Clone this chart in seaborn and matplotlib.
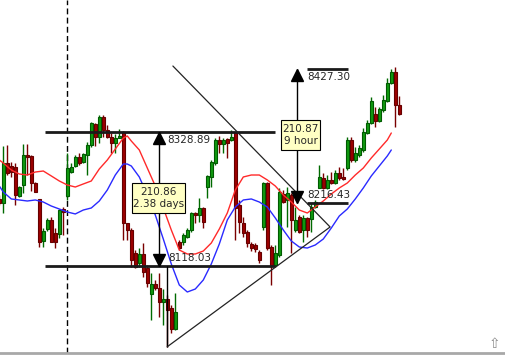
import numpy as np
import pandas as pd
import matplotlib
matplotlib.use("Agg")
import matplotlib.pyplot as plt
import seaborn as sns
from matplotlib.patches import Rectangle

# ---------------- data ----------------
bar_index = list(range(-1, 100))
opens = [8223.5, 8217, 8280, 8275, 8274, 8228, 8245, 8293, 8291, 8249, 8223,
         8157, 8176, 8190, 8170, 8168, 8208, 8228, 8266, 8275, 8290,
         8282, 8293, 8308, 8341, 8321, 8352, 8332, 8321, 8312, 8319,
         8329, 8186, 8175, 8138, 8123, 8137, 8115, 8074, 8090, 8083,
         8061, 8066, 8052, 8019, 8156, 8156, 8164, 8175, 8201, 8198,
         8209, 8242, 8258, 8280, 8316, 8310, 8318, 8316, 8329, 8214,
         8186, 8172, 8153, 8151, 8140, 8179, 8249, 8148, 8120, 8135,
         8231, 8222, 8230, 8175, 8195, 8175, 8194, 8192, 8211, 8241,
         8257, 8241, 8253, 8249, 8264, 8258, 8272, 8316, 8285, 8293,
         8301, 8327, 8343, 8357, 8346, 8363, 8378, 8406, 8423, 8371]
highs = [8230, 8307, 8308, 8282, 8280, 8244, 8310, 8310, 8293, 8250, 8223,
         8178, 8194, 8195, 8178, 8208, 8211, 8296, 8280, 8293, 8296,
         8296, 8313, 8345, 8343, 8356, 8356, 8340, 8327, 8326, 8334,
         8330, 8186, 8178, 8143, 8146, 8154, 8120, 8107, 8096, 8107,
         8082, 8072, 8057, 8076, 8159, 8170, 8178, 8203, 8203, 8225,
         8211, 8261, 8285, 8319, 8323, 8319, 8319, 8332, 8329, 8222,
         8195, 8175, 8156, 8154, 8143, 8250, 8250, 8151, 8151, 8241,
         8238, 8242, 8233, 8211, 8198, 8198, 8195, 8217, 8222, 8277,
         8264, 8261, 8266, 8269, 8274, 8272, 8321, 8321, 8305, 8308,
         8335, 8348, 8384, 8368, 8368, 8387, 8414, 8428, 8431, 8386]
lows = [8214, 8201, 8261, 8258, 8214, 8227, 8233, 8261, 8236, 8234, 8148,
        8148, 8173, 8156, 8146, 8162, 8167, 8222, 8264, 8274, 8277,
        8280, 8261, 8305, 8307, 8312, 8321, 8319, 8296, 8296, 8319,
        8159, 8159, 8116, 8115, 8116, 8101, 8085, 8033, 8080, 8038,
        8025, 7991, 8013, 8017, 8143, 8151, 8162, 8172, 8186, 8187,
        8178, 8225, 8242, 8277, 8296, 8296, 8288, 8315, 8159, 8170,
        8164, 8148, 8142, 8140, 8123, 8175, 8143, 8088, 8116, 8132,
        8217, 8179, 8138, 8172, 8170, 8156, 8164, 8172, 8209, 8241,
        8239, 8239, 8247, 8247, 8253, 8253, 8269, 8282, 8282, 8290,
        8297, 8326, 8341, 8337, 8345, 8360, 8376, 8404, 8337, 8356]
closes = [8217, 8280, 8264, 8266, 8230, 8242, 8293, 8290, 8249, 8234, 8156,
          8173, 8190, 8156, 8156, 8206, 8203, 8272, 8274, 8290, 8280,
          8294, 8308, 8343, 8321, 8352, 8332, 8321, 8312, 8319, 8323,
          8186, 8175, 8127, 8116, 8137, 8109, 8091, 8090, 8083, 8061,
          8066, 8049, 8019, 8046, 8146, 8167, 8175, 8201, 8198, 8209,
          8187, 8260, 8282, 8316, 8310, 8316, 8312, 8321, 8209, 8187,
          8170, 8154, 8146, 8145, 8127, 8249, 8146, 8120, 8138, 8234,
          8219, 8233, 8190, 8190, 8172, 8194, 8175, 8211, 8219, 8258,
          8241, 8253, 8249, 8264, 8257, 8255, 8316, 8285, 8296, 8304,
          8329, 8343, 8378, 8346, 8365, 8379, 8406, 8423, 8371, 8357]

ma_index = [-1, 0, 2, 4, 6, 8, 10, 12, 14, 16, 18, 20, 22, 24, 26, 28, 30, 31,
            32, 34, 36, 38, 40, 42, 44, 46, 48, 50, 52, 54, 56, 58, 60, 62, 64,
            66, 68, 70, 72, 74, 76, 78, 80, 82, 84, 86, 88, 90, 92, 94, 96, 97]
ma_fast = [8284.8, 8280.1, 8269.1, 8262.8, 8261.2, 8265.9, 8267.5, 8259.7,
           8251.8, 8245.5, 8242.3, 8247.1, 8251.8, 8270.7, 8284.8, 8302.1,
           8319.4, 8322.6, 8314.7, 8300.6, 8272.2, 8243.9, 8209.3, 8174.7,
           8143.2, 8136.9, 8136.9, 8141.6, 8154.2, 8176.2, 8201.4, 8237.6,
           8258.1, 8261.2, 8261.2, 8253.4, 8243.9, 8229.8, 8218.7, 8206.1,
           8201.4, 8210.9, 8220.3, 8231.3, 8240.8, 8248.6, 8261.2, 8272.2,
           8288.0, 8302.1, 8316.3, 8327.3]
ma_slow = [8243.9, 8234.5, 8223.5, 8221.9, 8220.3, 8221.9, 8218.7, 8212.4,
           8207.7, 8203.0, 8199.9, 8206.1, 8209.3, 8220.3, 8237.6, 8261.2,
           8278.5, 8278.5, 8275.4, 8258.1, 8229.8, 8198.3, 8160.5, 8121.2,
           8088.1, 8077.1, 8081.8, 8096.0, 8121.2, 8152.6, 8190.4, 8210.9,
           8221.9, 8223.5, 8218.7, 8210.9, 8193.6, 8174.7, 8157.4, 8147.9,
           8146.3, 8151.1, 8160.5, 8177.8, 8196.7, 8207.7, 8223.5, 8240.8,
           8259.7, 8275.4, 8291.1, 8300.6]

range_levels = [8328.89, 8118.03]
range_label = ["210.86", "2.38 days"]
target_levels = [8427.30, 8216.43]
target_label = ["210.87", "9 hour"]
tick_bars = [16.1, 37.2, 51.2, 65.1, 79.1, 93.1, 108.1]

# ---------------- figure ----------------
sns.set_style("white")
plt.rcParams['font.family'] = ['DejaVu Sans']

fig = plt.figure(figsize=(5.05, 3.55), dpi=100)
ax = fig.add_axes([0, 2 / 355, 1, 353 / 355])
ax.set_xlim(-0.825, 125.425)
ax.set_ylim(7981.1, 8536.6)

df = pd.DataFrame({"bar": bar_index, "open": opens, "high": highs,
                   "low": lows, "close": closes})
up = df["close"] >= df["open"]
wick_col = np.where(up, "#006a00", "#7a0000")
fill_col = np.where(up, "#109a10", "#9c0000")
edge_col = np.where(up, "#005a00", "#660000")

# wicks
ax.vlines(df["bar"], df["low"], df["high"], colors=wick_col, lw=1, zorder=2)
# bodies
body_h = (df["close"] - df["open"]).abs().clip(lower=1.3)
body_b = np.minimum(df["open"], df["close"])
ax.bar(df["bar"], body_h, bottom=body_b, width=0.62, color=fill_col,
       edgecolor=edge_col, linewidth=0.8, zorder=3)

# moving averages
ma_df = pd.DataFrame({"bar": ma_index, "fast": ma_fast, "slow": ma_slow})
sns.lineplot(data=ma_df, x="bar", y="fast", color="#ff2a2a", lw=1,
             estimator=None, ax=ax, zorder=4)
sns.lineplot(data=ma_df, x="bar", y="slow", color="#2a2aff", lw=1,
             estimator=None, ax=ax, zorder=4)

# dashed separator
ax.axvline(15.9, color="black", lw=1, dashes=(4.2, 2.4), zorder=1)

# range lines and measurement
for lv in range_levels:
    ax.hlines(lv, 10.4, 67.9, color="#1a1a1a", lw=2, zorder=5)
ax.vlines(38.85, range_levels[1], range_levels[0], color="black", lw=1, zorder=5)
ax.plot([38.85], [range_levels[0] - 9.4], marker="^", ms=8.5, color="black", zorder=6)
ax.plot([38.85], [range_levels[1] + 9.4], marker="v", ms=8.5, color="black", zorder=6)
ax.text(41.0, range_levels[0] - 13, f"{range_levels[0]:.2f}", fontsize=7.5,
        va="center", ha="left", zorder=6)
ax.text(41.2, range_levels[1] + 13, f"{range_levels[1]:.2f}", fontsize=7.5,
        va="center", ha="left", zorder=6)

# vertical line to the low
ax.vlines(41.0, min(lows), range_levels[1], color="black", lw=1, zorder=5)

# triangle
ax.plot([42.4, 81.7, 41.0], [8432.7, 8179.4, min(lows)], color="#222222",
        lw=0.9, zorder=5)

# target measurement
for lv in target_levels:
    ax.hlines(lv, 75.9, 86.25, color="#1a1a1a", lw=2, zorder=5)
ax.vlines(73.5, target_levels[1], target_levels[0], color="black", lw=1, zorder=5)
ax.plot([73.5], [target_levels[0] - 9.4], marker="^", ms=8.5, color="black", zorder=6)
ax.plot([73.5], [target_levels[1] + 9.4], marker="v", ms=8.5, color="black", zorder=6)
ax.text(76.0, target_levels[0] - 12.5, f"{target_levels[0]:.2f}", fontsize=7.5,
        va="center", ha="left", zorder=6)
ax.text(76.0, target_levels[1] + 13, f"{target_levels[1]:.2f}", fontsize=7.5,
        va="center", ha="left", zorder=6)

# info boxes
ax.add_patch(Rectangle((32.2, 8201.4), 13.2, 47.2, facecolor="#ffffc4",
                       edgecolor="black", lw=0.8, zorder=7))
ax.text(38.8, 8225.0, "\n".join(range_label), fontsize=7.5, ha="center",
        va="center", linespacing=1.3, multialignment="center", zorder=8)
ax.add_patch(Rectangle((69.4, 8300.6), 9.8, 47.2, facecolor="#ffffc4",
                       edgecolor="black", lw=0.8, zorder=7))
ax.text(74.3, 8324.2, "\n".join(target_label), fontsize=7.5, ha="center",
        va="center", linespacing=1.3, multialignment="center", zorder=8)

# little icon bottom right
ax.text(122.7, 7996, "\u21e7", fontsize=10, color="#8a8a8a", ha="center",
        va="center", zorder=8)

# axes styling
for s in ["top", "left", "right"]:
    ax.spines[s].set_visible(False)
ax.spines["bottom"].set_color("#a8a8a8")
ax.spines["bottom"].set_linewidth(2)
ax.set_xticks(tick_bars)
ax.set_yticks([])
ax.tick_params(axis="x", direction="in", length=3, color="#a8a8a8",
               labelbottom=False)
ax.set_xlabel("")
ax.set_ylabel("")

fig.savefig("out.png", dpi=100, facecolor="white")
